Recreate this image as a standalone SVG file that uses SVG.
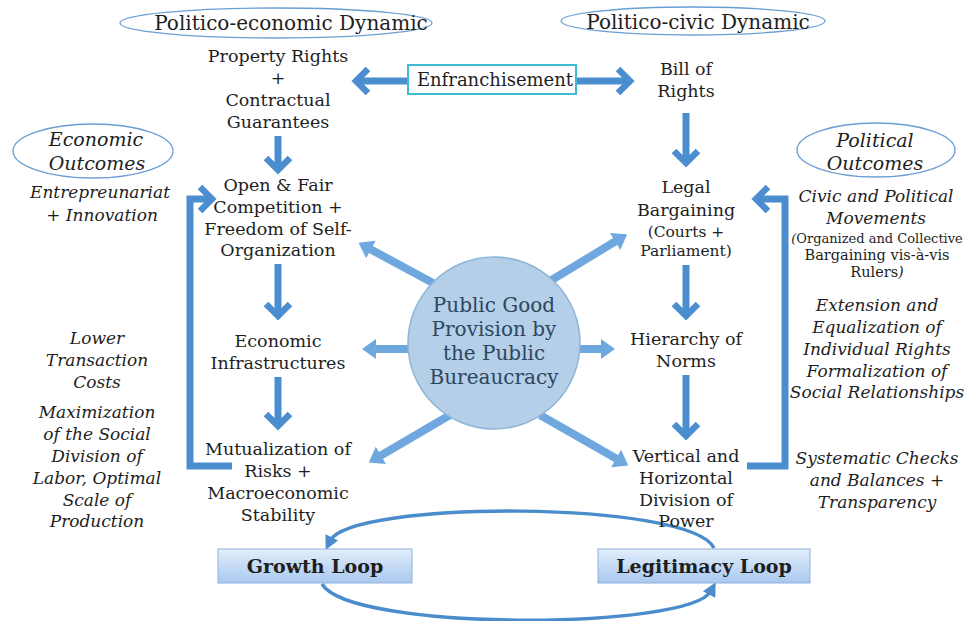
<svg xmlns="http://www.w3.org/2000/svg" width="967" height="621" viewBox="0 0 967 621">
<style>
text{font-family:"DejaVu Serif","Liberation Serif",serif;fill:#1e1e1e;text-anchor:middle}
.n{font-size:17.5px}
.s{font-size:15.5px}
.sm{font-size:14.5px}
.it{font-style:italic;font-size:17px}
.ot{font-style:italic;font-size:19px}
.ttl{font-size:20px}
.ell{fill:#fff;stroke:#6a9fd4;stroke-width:1.3}
.col{fill:none;stroke:#4a8ecf;stroke-width:7}
.rad{fill:none;stroke:#6ea8df;stroke-width:8}
.arc{fill:none;stroke:#4a8ccc;stroke-width:3.5}
.ctr{font-size:20px;fill:#2d4660}
.bx{font-weight:bold;font-size:19px}
</style>
<defs>
<marker id="chev" markerUnits="userSpaceOnUse" viewBox="0 0 16 28" markerWidth="16" markerHeight="28" refX="10" refY="14" orient="auto" overflow="visible">
<path d="M0,2 L12,14 L0,26" fill="none" stroke="#4a8ecf" stroke-width="6.5"/>
</marker>
<marker id="tri" markerUnits="userSpaceOnUse" viewBox="0 0 14 20" markerWidth="14" markerHeight="20" refX="1" refY="10" orient="auto" overflow="visible">
<path d="M0,0 L14,10 L0,20 z" fill="#6ea8df"/>
</marker>
<marker id="atri" markerUnits="userSpaceOnUse" viewBox="0 0 14 14" markerWidth="14" markerHeight="14" refX="4" refY="7" orient="auto" overflow="visible">
<path d="M0,0 L14,7 L0,14 z" fill="#4a8ccc"/>
</marker>
<linearGradient id="bg" x1="0" y1="0" x2="0" y2="1">
<stop offset="0" stop-color="#e2eefc"/>
<stop offset="1" stop-color="#a9c8ee"/>
</linearGradient>
</defs>

<g id="connectors">
<path class="col" d="M278,136 V168" marker-end="url(#chev)"/>
<path class="col" d="M278,264 V314" marker-end="url(#chev)"/>
<path class="col" d="M278,377 V424" marker-end="url(#chev)"/>
<path class="col" d="M686,113 V161" marker-end="url(#chev)"/>
<path class="col" d="M686,265 V314" marker-end="url(#chev)"/>
<path class="col" d="M686,375 V434" marker-end="url(#chev)"/>
<path class="col" d="M408,81 H358" marker-end="url(#chev)"/>
<path class="col" d="M576,81 H628" marker-end="url(#chev)"/>
<path class="col" d="M232,466 H190 V199 H210" marker-end="url(#chev)"/>
<path class="col" d="M747,466 H785 V199 H758" marker-end="url(#chev)"/>
<path class="rad" d="M433,283 L370,249" marker-end="url(#tri)"/>
<path class="rad" d="M410,349 H375" marker-end="url(#tri)"/>
<path class="rad" d="M450,415 L380,456" marker-end="url(#tri)"/>
<path class="rad" d="M550,281 L616,241" marker-end="url(#tri)"/>
<path class="rad" d="M577,349 H602" marker-end="url(#tri)"/>
<path class="rad" d="M540,415 L617,459" marker-end="url(#tri)"/>
<path class="arc" d="M714,548 C690,500 350,500 330,541" marker-end="url(#atri)"/>
<path class="arc" d="M322,584 C350,632 690,630 711,591" marker-end="url(#atri)"/>
</g>

<g id="title-econ">
<ellipse class="ell" cx="276" cy="23" rx="156" ry="15"/>
<text class="ttl" x="291" y="30">Politico-economic Dynamic</text>
</g>
<g id="title-civic">
<ellipse class="ell" cx="693" cy="21" rx="132" ry="14"/>
<text class="ttl" x="698" y="29">Politico-civic Dynamic</text>
</g>

<g id="property-rights">
<text class="n" x="278" y="62">Property Rights</text>
<text class="n" x="278" y="84">+</text>
<text class="n" x="278" y="106">Contractual</text>
<text class="n" x="278" y="128">Guarantees</text>
</g>
<g id="enfranchisement">
<rect x="408" y="65" width="168" height="29" fill="#fff" stroke="#3bbcd0" stroke-width="2"/>
<text class="n" x="495" y="86" style="font-size:18px">Enfranchisement</text>
</g>
<g id="bill-of-rights">
<text class="n" x="686" y="75">Bill of</text>
<text class="n" x="686" y="97">Rights</text>
</g>

<g id="competition">
<text class="n" x="278" y="191">Open &amp; Fair</text>
<text class="n" x="278" y="213">Competition +</text>
<text class="n" x="278" y="235">Freedom of Self-</text>
<text class="n" x="278" y="256">Organization</text>
</g>
<g id="infrastructures">
<text class="n" x="278" y="347">Economic</text>
<text class="n" x="278" y="369">Infrastructures</text>
</g>
<g id="mutualization">
<text class="n" x="278" y="455">Mutualization of</text>
<text class="n" x="278" y="477">Risks +</text>
<text class="n" x="278" y="499">Macroeconomic</text>
<text class="n" x="278" y="521">Stability</text>
</g>

<g id="legal-bargaining">
<text class="n" x="686" y="193">Legal</text>
<text class="n" x="686" y="216">Bargaining</text>
<text class="s" x="686" y="237">(Courts +</text>
<text class="s" x="686" y="256">Parliament)</text>
</g>
<g id="hierarchy">
<text class="n" x="686" y="345">Hierarchy of</text>
<text class="n" x="686" y="367">Norms</text>
</g>
<g id="division">
<text class="n" x="686" y="462">Vertical and</text>
<text class="n" x="686" y="484">Horizontal</text>
<text class="n" x="686" y="506">Division of</text>
<text class="n" x="686" y="527">Power</text>
</g>

<g id="public-good">
<circle cx="494" cy="343" r="86" fill="#b4cfe7" stroke="#8db5da" stroke-width="1.5"/>
<text class="ctr" x="494" y="312">Public Good</text>
<text class="ctr" x="494" y="336">Provision by</text>
<text class="ctr" x="494" y="360">the Public</text>
<text class="ctr" x="494" y="384">Bureaucracy</text>
</g>

<g id="economic-outcomes">
<ellipse class="ell" cx="93" cy="151" rx="80" ry="27"/>
<text class="ot" x="96" y="146">Economic</text>
<text class="ot" x="97" y="170">Outcomes</text>
<text class="it" x="100" y="198">Entrepreunariat</text>
<text class="it" x="102" y="221">+ Innovation</text>
<text class="it" x="97" y="344">Lower</text>
<text class="it" x="97" y="366">Transaction</text>
<text class="it" x="97" y="388">Costs</text>
<text class="it" x="97" y="418">Maximization</text>
<text class="it" x="97" y="440">of the Social</text>
<text class="it" x="97" y="462">Division of</text>
<text class="it" x="97" y="484">Labor, Optimal</text>
<text class="it" x="97" y="506">Scale of</text>
<text class="it" x="97" y="527">Production</text>
</g>

<g id="political-outcomes">
<ellipse class="ell" cx="876" cy="150" rx="79" ry="27"/>
<text class="ot" x="875" y="147">Political</text>
<text class="ot" x="875" y="170">Outcomes</text>
<text class="it" x="876" y="202">Civic and Political</text>
<text class="it" x="876" y="224">Movements</text>
<text class="sm" x="877" y="243" style="font-size:13px"><tspan font-style="italic">(</tspan>Organized and Collective</text>
<text class="sm" x="877" y="260">Bargaining vis-à-vis</text>
<text class="sm" x="877" y="277">Rulers<tspan font-style="italic">)</tspan></text>
<text class="it" x="877" y="311">Extension and</text>
<text class="it" x="877" y="333">Equalization of</text>
<text class="it" x="877" y="355">Individual Rights</text>
<text class="it" x="877" y="377">Formalization of</text>
<text class="it" x="877" y="398">Social Relationships</text>
<text class="it" x="877" y="464">Systematic Checks</text>
<text class="it" x="877" y="486">and Balances +</text>
<text class="it" x="877" y="508">Transparency</text>
</g>

<g id="growth-loop">
<rect x="218" y="549" width="194" height="34" fill="url(#bg)" stroke="#8db2df" stroke-width="1"/>
<text class="bx" x="315" y="573">Growth Loop</text>
</g>
<g id="legitimacy-loop">
<rect x="598" y="549" width="212" height="34" fill="url(#bg)" stroke="#8db2df" stroke-width="1"/>
<text class="bx" x="704" y="573">Legitimacy Loop</text>
</g>
</svg>
